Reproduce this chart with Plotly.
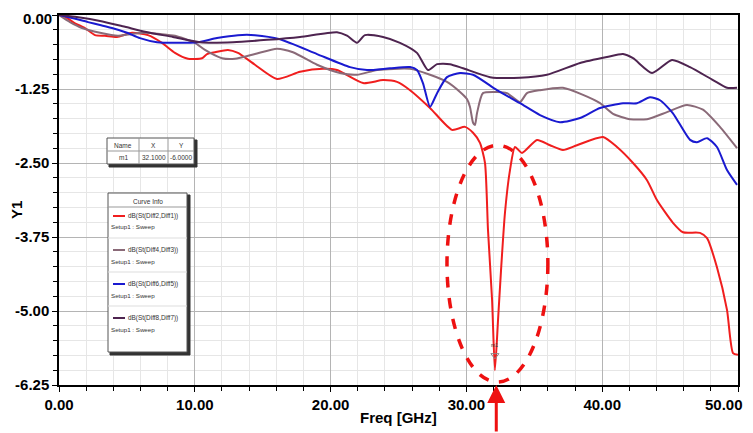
import plotly.graph_objects as go

# ---------------- data (GHz, dB) ----------------
freq_21 = [0, 0.44, 1.18, 1.91, 2.65, 3.39, 4.27, 5.38, 6.55, 7.58, 8.54, 9.50, 10.53, 10.90, 11.49,
           12.44, 13.18, 14.43, 16.05, 17.75, 19.44, 20.47, 22.39, 23.86, 24.89, 25.85, 27.32, 28.94,
           29.90, 30.49, 31.00, 31.37, 31.59, 31.89, 32.10, 32.33, 32.55, 32.84, 33.21, 33.58, 34.09,
           35.20, 36.16, 37.11, 38.14, 40.06, 41.09, 42.27, 43.30, 44.04, 45.21, 45.95, 47.20, 47.72,
           48.45, 49.19, 49.63, 50.00]
db_21 = [0, -0.03, -0.14, -0.22, -0.34, -0.35, -0.37, -0.30, -0.34, -0.47, -0.64, -0.74, -0.73, -0.66,
         -0.63, -0.59, -0.64, -0.84, -1.08, -0.96, -0.91, -0.93, -1.15, -1.10, -1.13, -1.27, -1.57, -1.94,
         -1.89, -1.99, -2.16, -2.50, -3.63, -4.81, -6.00, -5.15, -4.31, -3.34, -2.62, -2.23, -2.33,
         -2.11, -2.20, -2.28, -2.20, -2.06, -2.23, -2.50, -2.79, -3.13, -3.51, -3.67, -3.68, -3.77,
         -4.26, -4.98, -5.71, -5.74]

freq_43 = [0, 0.81, 1.69, 3.02, 4.34, 5.38, 6.33, 7.44, 8.54, 10.01, 10.75, 12.00, 12.96, 14.43, 16.05,
           17.23, 19.00, 20.69, 21.94, 23.42, 25.85, 27.32, 28.57, 29.53, 30.04, 30.26, 30.49, 30.63,
           30.78, 31.22, 32.25, 32.99, 33.95, 34.46, 35.42, 37.11, 38.59, 39.84, 40.80, 42.05, 43.30,
           44.77, 46.24, 47.42, 48.67, 49.93]
db_43 = [0, -0.12, -0.22, -0.30, -0.35, -0.32, -0.30, -0.32, -0.35, -0.47, -0.59, -0.73, -0.74, -0.66,
         -0.57, -0.63, -0.84, -0.98, -1.01, -0.93, -0.91, -1.01, -1.13, -1.30, -1.42, -1.55, -1.82, -1.86,
         -1.66, -1.32, -1.30, -1.32, -1.47, -1.32, -1.27, -1.23, -1.35, -1.49, -1.67, -1.76, -1.76,
         -1.64, -1.52, -1.60, -1.89, -2.25]

freq_65 = [0, 0.44, 2.14, 3.02, 3.90, 5.01, 5.96, 7.22, 8.54, 10.24, 11.63, 13.18, 14.43, 16.27, 19.00,
           21.43, 22.68, 24.37, 25.85, 26.36, 26.80, 27.32, 27.84, 28.57, 29.53, 30.49, 32.25, 33.95,
           35.42, 36.89, 38.37, 39.84, 41.53, 42.56, 43.52, 44.26, 45.21, 46.47, 46.98, 47.72, 48.45,
           49.19, 49.93]
db_65 = [0, -0.02, -0.12, -0.17, -0.22, -0.30, -0.39, -0.46, -0.47, -0.46, -0.39, -0.34, -0.34, -0.41,
         -0.66, -0.88, -0.93, -0.90, -0.88, -0.93, -1.15, -1.55, -1.32, -1.05, -0.98, -1.01, -1.27, -1.49,
         -1.69, -1.81, -1.74, -1.57, -1.49, -1.49, -1.39, -1.44, -1.66, -2.11, -2.15, -2.08, -2.23,
         -2.62, -2.87]

freq_87 = [0, 1.18, 3.02, 4.86, 6.70, 8.39, 10.38, 12.81, 15.32, 17.75, 20.47, 21.21, 21.94, 22.53,
           23.86, 25.11, 26.36, 27.17, 27.84, 28.79, 29.75, 31.74, 33.95, 35.93, 38.37, 40.35, 41.53,
           42.27, 43.67, 45.14, 46.47, 48.16, 49.19, 49.93]
db_87 = [0, -0.03, -0.10, -0.20, -0.30, -0.37, -0.46, -0.46, -0.42, -0.37, -0.29, -0.35, -0.47, -0.34,
         -0.37, -0.47, -0.64, -0.93, -0.83, -0.83, -0.90, -1.05, -1.06, -1.01, -0.81, -0.71, -0.66,
         -0.73, -0.98, -0.76, -0.88, -1.10, -1.23, -1.23]

curve_names = ["dB(St(Diff2,Diff1))", "dB(St(Diff4,Diff3))", "dB(St(Diff6,Diff5))", "dB(St(Diff8,Diff7))"]
curve_colors = ["#f01e1e", "#8a6a78", "#1a1ad0", "#4e2450"]
setup_label = "Setup1 : Sweep"

x_ticks = [0, 10, 20, 30, 40, 50]
y_ticks = [0, -1.25, -2.5, -3.75, -5.0, -6.25]

marker_name = "m1"
marker_x = 32.1
marker_y = -6.0

series = [(freq_21, db_21), (freq_43, db_43), (freq_65, db_65), (freq_87, db_87)]

# ---------------- figure ----------------
# the page body has an 8px margin, so the figure is 8px smaller and offset accordingly
OFF = 8
W, H = 753 - OFF, 433 - OFF
PL, PR, PT, PB = 59, 738, 15, 385   # plot area in window pixels

def px(x):
    return (x - PL) / (PR - PL)

def py(y):
    return (PB - y) / (PB - PT)

fig = go.Figure()
for (fx, fy), name, col in zip(series, curve_names, curve_colors):
    fig.add_trace(go.Scatter(x=fx, y=fy, mode="lines", name=name,
                             line=dict(color=col, width=2, shape="spline", smoothing=0.6),
                             showlegend=False, hoverinfo="x+y"))

# marker m1
fig.add_trace(go.Scatter(x=[marker_x], y=[marker_y + 0.25], mode="markers",
                         marker=dict(symbol="triangle-down-open", size=7, color="#888888",
                                     line=dict(width=1)),
                         showlegend=False, hoverinfo="skip"))

tickfont = dict(family="Liberation Sans, Arial, sans-serif", size=15,
                color="black", weight="bold")

# first y label and last x label are drawn separately so they stay inside the window
x_ticktext = [f"{v:.2f}" for v in x_ticks]
last_x_label = x_ticktext[-1]
x_ticktext[-1] = ""
y_ticktext = [f"{v:.2f}" for v in y_ticks]
top_y_label = y_ticktext[0]
y_ticktext[0] = ""

fig.update_xaxes(range=[0, 50], tickvals=x_ticks, ticktext=x_ticktext,
                 tickfont=tickfont, showline=True, linecolor="black", linewidth=1.5, mirror=True,
                 ticks="outside", ticklen=5, tickcolor="black", automargin=False,
                 ticklabeloverflow="allow",
                 showgrid=True, gridcolor="#b4b4b4", gridwidth=1, zeroline=False,
                 minor=dict(dtick=2, showgrid=True, gridcolor="#e6e6e6", ticks="outside",
                            ticklen=4, tickcolor="black"))
fig.update_yaxes(range=[-6.25, 0], tickvals=y_ticks, ticktext=y_ticktext,
                 tickfont=tickfont, showline=True, linecolor="black", linewidth=1.5, mirror=True,
                 ticks="outside", ticklen=5, tickcolor="black", automargin=False,
                 ticklabeloverflow="allow",
                 showgrid=True, gridcolor="#b4b4b4", gridwidth=1, zeroline=False,
                 minor=dict(dtick=0.25, showgrid=True, gridcolor="#e6e6e6", ticks="outside",
                            ticklen=4, tickcolor="black"))

shapes = []
annotations = []
small = dict(family="Liberation Sans, Arial, sans-serif", size=6.5, color="#333333")

def rect(x0, y0, x1, y1, fill="white", line="#555555", lw=1):
    shapes.append(dict(type="rect", xref="paper", yref="paper", x0=px(x0), x1=px(x1),
                       y0=py(y1), y1=py(y0), fillcolor=fill, line=dict(color=line, width=lw),
                       layer="above"))

def hline(x0, x1, y, color="#999999", lw=1):
    shapes.append(dict(type="line", xref="paper", yref="paper", x0=px(x0), x1=px(x1),
                       y0=py(y), y1=py(y), line=dict(color=color, width=lw), layer="above"))

def vline(x, y0, y1, color="#999999", lw=1):
    shapes.append(dict(type="line", xref="paper", yref="paper", x0=px(x), x1=px(x),
                       y0=py(y0), y1=py(y1), line=dict(color=color, width=lw), layer="above"))

def text(x, y, s, xanchor="center", font=small, yanchor="middle"):
    annotations.append(dict(xref="paper", yref="paper", x=px(x), y=py(y), text=s,
                            showarrow=False, xanchor=xanchor, yanchor=yanchor, font=font,
                            borderpad=0))

# marker table
rect(109, 140, 197, 167, fill="#333333", line="#333333")
rect(107, 138, 194, 164)
vline(139, 138, 164)
vline(168, 138, 164)
hline(107, 194, 151)
for cx, s in zip([123, 153.5, 181], ["Name", "X", "Y"]):
    text(cx, 145, s)
for cx, s in zip([123, 153.5, 181], [marker_name, f"{marker_x:.4f}", f"{marker_y:.4f}"]):
    text(cx, 157.5, s)

# curve info box
rect(110, 195, 190, 355, fill="#333333", line="#333333")
rect(108, 193, 187, 352)
text(147.5, 201, "Curve Info")
hline(108, 187, 207)
for i, (name, col) in enumerate(zip(curve_names, curve_colors)):
    yl = 216 + i * 34
    hline(113, 125, yl, color=col, lw=2)
    text(127, yl, name, xanchor="left", font=dict(small, size=6.4))
    text(110, yl + 11, setup_label, xanchor="left", font=dict(small, size=6.2))
    if i < 3:
        hline(108, 187, yl + 22, color="#dddddd")

# m1 label
annotations.append(dict(x=marker_x, y=marker_y + 0.42, xref="x", yref="y", text=marker_name,
                        showarrow=False, font=dict(small, size=5)))

# highlight ellipse
shapes.append(dict(type="circle", xref="x", yref="y", x0=28.57, x1=36.0, y0=-6.20, y1=-2.20,
                   line=dict(color="#ee1111", width=3.5, dash="dash"), layer="above"))

# arrow pointing to the dip
annotations.append(dict(x=32.2, y=-6.25, xref="x", yref="y", text="", showarrow=True,
                        ax=0, ay=48, arrowhead=2, arrowsize=1.2, arrowwidth=3,
                        arrowcolor="#ee1111", standoff=0))

# edge tick labels, kept inside the window
text(744, 405, last_x_label, xanchor="right", font=tickfont)
text(53, 8.5, top_y_label, xanchor="right", yanchor="top", font=tickfont)

# axis titles
title_font = dict(family="Liberation Sans, Arial, sans-serif", size=15,
                  color="black", weight="bold")
annotations.append(dict(xref="paper", yref="paper", x=px(398), y=py(417), text="Freq [GHz]",
                        showarrow=False, font=title_font, xanchor="center", yanchor="middle"))
annotations.append(dict(xref="paper", yref="paper", x=px(17), y=py(210), text="Y1", textangle=-90,
                        showarrow=False, font=title_font, xanchor="center", yanchor="middle"))

fig.update_layout(width=W, height=H,
                  margin=dict(l=PL - OFF, r=753 - PR, t=PT - OFF, b=433 - PB, autoexpand=False),
                  paper_bgcolor="white", plot_bgcolor="white",
                  shapes=shapes, annotations=annotations, showlegend=False)

fig.write_html("out.html")
